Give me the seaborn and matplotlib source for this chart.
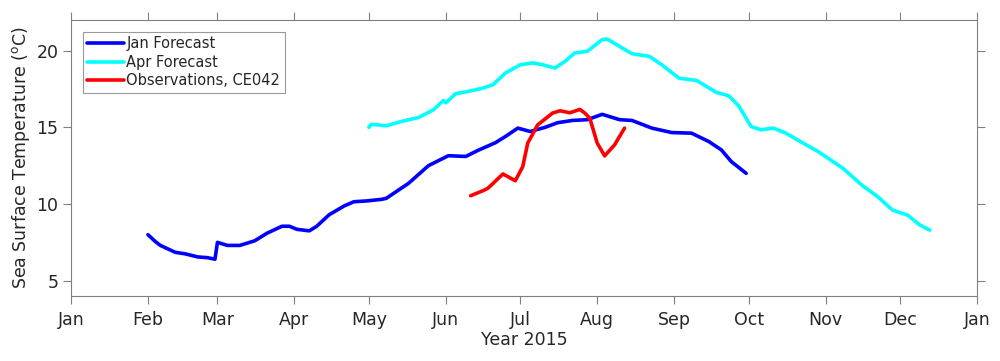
import pandas as pd
import seaborn as sns
import matplotlib.pyplot as plt
import matplotlib.dates as mdates

# Jan forecast (blue)
jan_dates = ['2015-02-01', '2015-02-04', '2015-02-06', '2015-02-12', '2015-02-16', '2015-02-21',
             '2015-02-25', '2015-02-28', '2015-03-01', '2015-03-05', '2015-03-10', '2015-03-16',
             '2015-03-21', '2015-03-27', '2015-03-30', '2015-04-02', '2015-04-07', '2015-04-10',
             '2015-04-15', '2015-04-21', '2015-04-25', '2015-04-30', '2015-05-06', '2015-05-08',
             '2015-05-17', '2015-05-25', '2015-06-02', '2015-06-09', '2015-06-14', '2015-06-21',
             '2015-06-25', '2015-06-30', '2015-07-05', '2015-07-11', '2015-07-16', '2015-07-22',
             '2015-07-28', '2015-08-03', '2015-08-10', '2015-08-15', '2015-08-23', '2015-08-31',
             '2015-09-08', '2015-09-15', '2015-09-20', '2015-09-24', '2015-09-30']
jan_sst = [8.0, 7.55, 7.3, 6.85, 6.75, 6.55,
           6.5, 6.4, 7.5, 7.3, 7.3, 7.6,
           8.1, 8.55, 8.55, 8.35, 8.25, 8.55,
           9.3, 9.87, 10.15, 10.2, 10.3, 10.37,
           11.35, 12.5, 13.15, 13.1, 13.5, 14.0,
           14.4, 14.95, 14.73, 15.0, 15.3, 15.45,
           15.5, 15.85, 15.5, 15.45, 14.95, 14.66,
           14.62, 14.07, 13.53, 12.77, 12.0]

# Apr forecast (cyan)
apr_dates = ['2015-05-01', '2015-05-02', '2015-05-08', '2015-05-14', '2015-05-21', '2015-05-27',
             '2015-05-31', '2015-06-01', '2015-06-05', '2015-06-10', '2015-06-16', '2015-06-20',
             '2015-06-25', '2015-07-01', '2015-07-06', '2015-07-10', '2015-07-15', '2015-07-19',
             '2015-07-23', '2015-07-28', '2015-08-03', '2015-08-05', '2015-08-10', '2015-08-15',
             '2015-08-22', '2015-08-27', '2015-09-03', '2015-09-10', '2015-09-18', '2015-09-23',
             '2015-09-27', '2015-10-02', '2015-10-06', '2015-10-11', '2015-10-16', '2015-10-23',
             '2015-10-29', '2015-11-08', '2015-11-16', '2015-11-22', '2015-11-28', '2015-12-04',
             '2015-12-09', '2015-12-13']
apr_sst = [15.0, 15.2, 15.1, 15.38, 15.64, 16.14,
           16.75, 16.6, 17.2, 17.34, 17.56, 17.78,
           18.54, 19.08, 19.2, 19.08, 18.87, 19.3,
           19.85, 19.96, 20.72, 20.76, 20.28, 19.8,
           19.63, 19.08, 18.2, 18.06, 17.28, 17.06,
           16.4, 15.05, 14.84, 14.95, 14.62, 13.97,
           13.42, 12.33, 11.18, 10.48, 9.6, 9.28,
           8.63, 8.3]

# Observations, CE042 (red)
obs_dates = ['2015-06-11', '2015-06-16', '2015-06-18', '2015-06-24', '2015-06-29', '2015-07-02',
             '2015-07-04', '2015-07-08', '2015-07-14', '2015-07-17', '2015-07-21', '2015-07-25',
             '2015-07-27', '2015-07-29', '2015-08-01', '2015-08-04', '2015-08-08', '2015-08-12']
obs_sst = [10.54, 10.87, 11.03, 11.96, 11.52, 12.44,
           13.97, 15.16, 15.93, 16.08, 15.95, 16.17,
           15.93, 15.6, 13.97, 13.14, 13.86, 14.95]

sns.set_theme(style='white')
plt.rcParams['font.family'] = ['DejaVu Sans']

fig = plt.figure(figsize=(10, 3.61), dpi=100)
ax = fig.add_axes([0.071, 0.18, 0.906, 0.7646])

sns.lineplot(x=pd.to_datetime(jan_dates), y=jan_sst, color='#0000ff', lw=2.6, label='Jan Forecast', ax=ax)
sns.lineplot(x=pd.to_datetime(apr_dates), y=apr_sst, color='#00ffff', lw=2.6, label='Apr Forecast', ax=ax)
sns.lineplot(x=pd.to_datetime(obs_dates), y=obs_sst, color='#ff0000', lw=2.6, label='Observations, CE042', ax=ax)

ax.set_xlim(pd.Timestamp('2015-01-01'), pd.Timestamp('2016-01-01'))
ax.set_ylim(4, 22)
ax.set_yticks([5, 10, 15, 20])
ax.xaxis.set_major_locator(mdates.MonthLocator())
ax.xaxis.set_major_formatter(mdates.DateFormatter('%b'))

grey = '#808080'
for s in ax.spines.values():
    s.set_color(grey)
    s.set_linewidth(0.8)
ax.tick_params(direction='out', length=6, width=0.8, color=grey, labelsize=12.5,
               labelcolor='#262626', top=True, right=True, bottom=True, left=True)
ax.tick_params(axis='x', pad=5)
ax.tick_params(axis='y', pad=3)

ax.set_xlabel('Year 2015', fontsize=12.5, color='#262626', labelpad=1)
ax.set_ylabel(r'Sea Surface Temperature ($^{\rm o}$C)', fontsize=12.5, color='#262626', labelpad=3)

leg = ax.legend(loc='upper left', fontsize=10.5, frameon=True, fancybox=False, handlelength=2.5,
                handletextpad=0.2, labelspacing=0.25, borderaxespad=0.8, borderpad=0.3)
leg.get_frame().set_edgecolor(grey)
leg.get_frame().set_linewidth(0.8)
for t in leg.get_texts():
    t.set_color('#262626')

fig.savefig('out.png', dpi=100)
